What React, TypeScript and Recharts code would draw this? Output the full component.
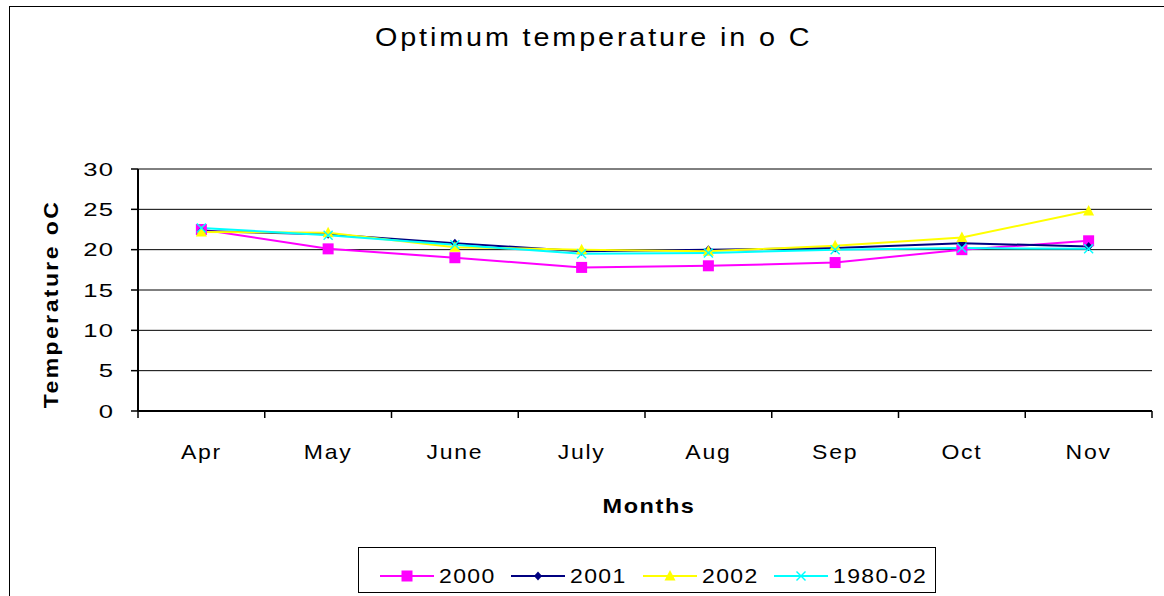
import React from "react"
import { LineChart, Line, XAxis, YAxis, CartesianGrid } from "recharts"

const months = ["Apr", "May", "June", "July", "Aug", "Sep", "Oct", "Nov"]
const yTicks = [0, 5, 10, 15, 20, 25, 30]

const s2000 = [22.5, 20.1, 19.0, 17.8, 18.0, 18.4, 20.0, 21.1]
const s2001 = [22.3, 21.9, 20.8, 19.8, 20.0, 20.2, 20.8, 20.4]
const s2002 = [22.2, 22.1, 20.3, 20.0, 19.8, 20.5, 21.5, 24.8]
const s1980 = [22.7, 21.8, 20.6, 19.5, 19.6, 20.0, 20.2, 20.1]

const FONT = '"Liberation Sans", Arial, sans-serif'

const data = months.map((m, i) => ({
  idx: i + 0.5,
  month: m,
  s2000: s2000[i],
  s2001: s2001[i],
  s2002: s2002[i],
  s1980: s1980[i],
}))

// tick positions: category boundaries (integers) and centres (halves)
const xTicks = Array.from({ length: months.length * 2 + 1 }, (_, i) => i / 2)

// marker shapes, shared by the lines and the legend
const Square = ({ cx, cy, color }: any) => <rect x={cx - 5.5} y={cy - 5.5} width={11} height={11} fill={color} />
const Diamond = ({ cx, cy, color }: any) => (
  <polygon points={`${cx},${cy - 4.5} ${cx + 4},${cy} ${cx},${cy + 4.5} ${cx - 4},${cy}`} fill={color} />
)
const Triangle = ({ cx, cy, color }: any) => (
  <polygon points={`${cx},${cy - 6} ${cx + 5.5},${cy + 4.5} ${cx - 5.5},${cy + 4.5}`} fill={color} />
)
const Cross = ({ cx, cy, color }: any) => (
  <g stroke={color} strokeWidth={1.4}>
    <line x1={cx - 4.5} y1={cy - 4.5} x2={cx + 4.5} y2={cy + 4.5} />
    <line x1={cx - 4.5} y1={cy + 4.5} x2={cx + 4.5} y2={cy - 4.5} />
  </g>
)

const series = [
  { key: "s2000", name: "2000", color: "#FF00FF", Marker: Square },
  { key: "s2001", name: "2001", color: "#000080", Marker: Diamond },
  { key: "s2002", name: "2002", color: "#FFFF00", Marker: Triangle },
  { key: "s1980", name: "1980-02", color: "#00FFFF", Marker: Cross },
]

// the original text is drawn wide, so glyphs get a little horizontal stretch
const XTick = ({ x, y, payload }: any) => {
  const v = payload.value
  if (Number.isInteger(v)) {
    return <line x1={x} y1={y} x2={x} y2={y + 7} stroke="#000" strokeWidth={1.5} />
  }
  return (
    <text
      transform={`translate(${x},${y + 48}) scale(1.15,1)`}
      textAnchor="middle"
      fontSize={20}
      fill="#000"
      fontFamily={FONT}
      letterSpacing={1.5}
    >
      {months[Math.floor(v)]}
    </text>
  )
}

const YTick = ({ x, y, payload }: any) => (
  <text
    transform={`translate(${x},${y}) scale(1.35,1)`}
    dy="0.355em"
    textAnchor="end"
    fontSize={19}
    fill="#000"
    fontFamily={FONT}
    letterSpacing={0.8}
  >
    {payload.value}
  </text>
)

export default function App() {
  return (
    <div
      style={{
        position: "fixed",
        left: 0,
        top: 0,
        width: 1164,
        height: 596,
        overflow: "hidden",
        background: "#fff",
        fontFamily: FONT,
      }}
    >
      {/* outer chart-area frame, cut off at the right and bottom */}
      <div
        style={{
          position: "absolute",
          left: 9,
          top: 6,
          width: 2000,
          height: 2000,
          borderLeft: "1px solid #000",
          borderTop: "1px solid #000",
        }}
      />

      <div
        style={{
          position: "absolute",
          left: 375,
          top: 24.5,
          fontSize: 25,
          lineHeight: "25px",
          letterSpacing: 2.5,
          whiteSpace: "nowrap",
          color: "#000",
          transform: "scaleX(1.15)",
          transformOrigin: "left center",
        }}
      >
        Optimum temperature in o C
      </div>

      <div style={{ position: "absolute", left: 0, top: 0 }}>
        <LineChart width={1164} height={596} data={data} margin={{ top: 169, right: 12, bottom: 125, left: 0 }}>
          <CartesianGrid vertical={false} stroke="#000" strokeWidth={1} />
          <XAxis
            dataKey="idx"
            type="number"
            domain={[0, months.length]}
            ticks={xTicks}
            interval={0}
            height={60}
            tickLine={false}
            tickSize={0}
            tickMargin={0}
            tick={<XTick />}
            axisLine={{ stroke: "#000", strokeWidth: 2 }}
            label={{
              content: () => (
                <text
                  transform="translate(649,513) scale(1.12,1)"
                  textAnchor="middle"
                  fontSize={21}
                  fontWeight="bold"
                  fill="#000"
                  fontFamily={FONT}
                  letterSpacing={1.4}
                >
                  Months
                </text>
              ),
            }}
          />
          <YAxis
            domain={[0, 30]}
            ticks={yTicks}
            width={138}
            interval={0}
            tickSize={7}
            tickMargin={17}
            tick={<YTick />}
            tickLine={{ stroke: "#000", strokeWidth: 1.5 }}
            axisLine={{ stroke: "#000", strokeWidth: 2 }}
            label={{
              content: () => (
                <text
                  transform="translate(58,304) rotate(-90) scale(1.15,1)"
                  textAnchor="middle"
                  fontSize={20}
                  fontWeight="bold"
                  fill="#000"
                  fontFamily={FONT}
                  letterSpacing={2.1}
                >
                  Temperature oC
                </text>
              ),
            }}
          />
          {series.map((s) => (
            <Line
              key={s.key}
              dataKey={s.key}
              name={s.name}
              type="linear"
              stroke={s.color}
              strokeWidth={2}
              isAnimationActive={false}
              activeDot={false}
              dot={(p: any) => <s.Marker key={`${s.key}-${p.index}`} cx={p.cx} cy={p.cy} color={s.color} />}
            />
          ))}
        </LineChart>
      </div>

      {/* legend */}
      <div
        style={{
          position: "absolute",
          left: 358,
          top: 547,
          width: 578,
          height: 46,
          boxSizing: "border-box",
          border: "1px solid #000",
          background: "#fff",
        }}
      >
        <div
          style={{
            position: "absolute",
            left: 21,
            top: 18,
            height: 20,
            display: "flex",
            alignItems: "center",
            whiteSpace: "nowrap",
          }}
        >
          {series.map((s) => (
            <div key={s.key} style={{ display: "flex", alignItems: "center", flexShrink: 0 }}>
              <svg width={54} height={20} style={{ marginRight: 5, flexShrink: 0 }}>
                <line x1={0} y1={10} x2={54} y2={10} stroke={s.color} strokeWidth={2} />
                <s.Marker cx={27} cy={10} color={s.color} />
              </svg>
              <span
                style={{
                  display: "inline-block",
                  fontSize: 20,
                  lineHeight: "20px",
                  letterSpacing: 1.2,
                  marginRight: 23,
                  color: "#000",
                  transform: "scaleX(1.15)",
                  transformOrigin: "left center",
                }}
              >
                {s.name}
              </span>
            </div>
          ))}
        </div>
      </div>
    </div>
  )
}
